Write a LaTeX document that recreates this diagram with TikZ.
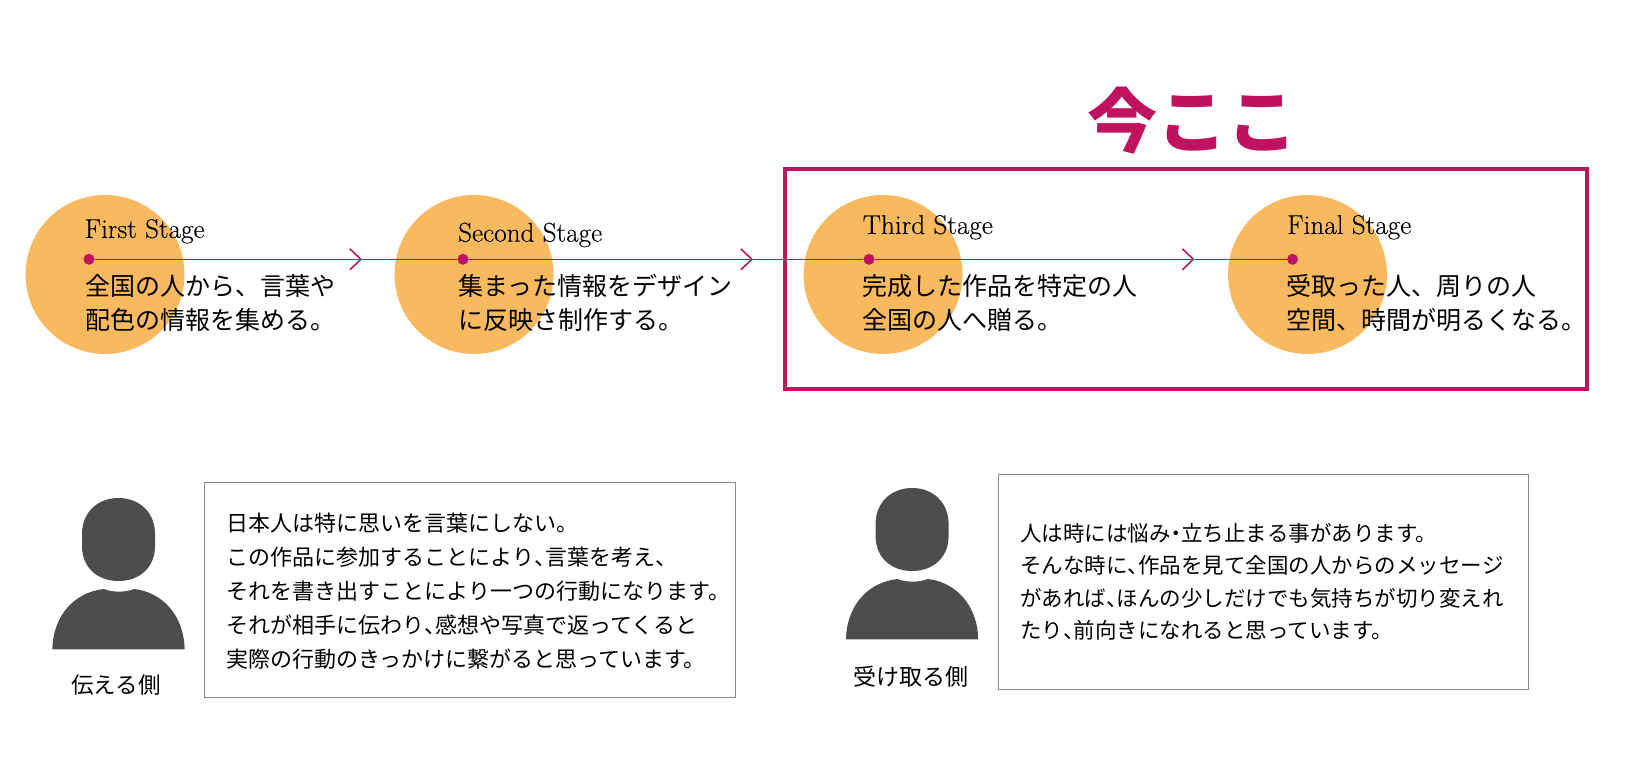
\documentclass[tikz,border=0pt]{standalone}
\usepackage{fontspec}
\usetikzlibrary{arrows.meta}
\newfontfamily\jpfont{Noto Sans CJK JP}
\newfontfamily\stagefont[FakeBold=0.15]{Latin Modern Roman}
\newcommand{\hcomma}{\makebox[.5em][l]{、}}
\newcommand{\hdot}{\makebox[.5em][c]{・}}
\definecolor{mag}{HTML}{C0125F}
\definecolor{orng}{HTML}{F9B95F}
\definecolor{persongray}{HTML}{4D4D4D}
\definecolor{boxgray}{HTML}{8A8A8A}
\tikzset{
  x=1pt,y=-1pt,
  disc/.style={circle,fill=orng,minimum size=159pt,inner sep=0pt},
  stagedot/.style={circle,fill=mag,minimum size=11pt,inner sep=0pt},
  stagelabel/.style={anchor=base west,inner sep=0pt,font=\stagefont\fontsize{27.2}{27.2}\selectfont},
  stagetext/.style={anchor=west,inner sep=0pt,align=left,font=\jpfont\fontsize{25}{34}\selectfont},
  flow/.style={draw=mag,line width=1.6pt},
  flowarrow/.style={flow,-{Straight Barb[length=11pt,width=21pt,line width=1.6pt]}},
  infobox/.style={draw=boxgray,line width=1pt,fill=white,anchor=north west,inner sep=0pt,outer sep=0pt},
  infotext/.style={anchor=west,inner sep=0pt,align=left,font=\jpfont\fontsize{22}{34}\selectfont},
  sidelabel/.style={inner sep=0pt,font=\jpfont\fontsize{22.5}{26}\selectfont},
  person/.pic={
    \fill[persongray] (82,534) .. controls (82,512) and (98,498) .. (118.5,498)
      .. controls (139,498) and (155,512) .. (155,534) -- (155,546)
      .. controls (155,568) and (139,581) .. (118.5,581)
      .. controls (98,581) and (82,568) .. (82,546) -- cycle;
    \fill[persongray] (52.4,649.3) .. controls (53,615) and (75,592) .. (104,589)
      .. controls (112,592.5) and (126,592.5) .. (134,589)
      .. controls (162,592) and (184,615) .. (184.6,649.3) -- cycle;
  }
}
\begin{document}
\begin{tikzpicture}
\useasboundingbox (0,0) rectangle (1626,765);
% discs
\node[disc] (c1) at (105,274.5) {};
\node[disc] (c2) at (474,274.5) {};
\node[disc] (c3) at (883,274.5) {};
\node[disc] (c4) at (1307.5,274.5) {};
% frame
\node[draw=mag,line width=4pt,outer sep=0pt,minimum width=801.5pt,minimum height=219.5pt,inner sep=0pt,anchor=north west] (frame) at (785,169.5) {};
% heading
\node[inner sep=0pt,text=mag,font=\jpfont\bfseries\fontsize{70}{70}\selectfont] (now) at (1192,121) {今ここ};
% timeline
\node[stagedot] (d1) at (89,259.3) {};
\node[stagedot] (d2) at (463,259.3) {};
\node[stagedot] (d3) at (869,259.3) {};
\node[stagedot] (d4) at (1292.5,259.3) {};
\coordinate (t1) at (362,259.3);
\coordinate (t2) at (753,259.3);
\coordinate (t3) at (1194.5,259.3);
\draw[flowarrow] (d1) -- (t1);
\draw[flow] (t1) -- (d2);
\draw[flowarrow] (d2) -- (t2);
\draw[flow] (t2) -- (d3);
\draw[flowarrow] (d3) -- (t3);
\draw[flow] (t3) -- (d4);
% stage labels
\node[stagelabel] (s1) at (84.5,238) {First Stage};
\node[stagelabel] (s2) at (458,241.7) {Second Stage};
\node[stagelabel] (s3) at (862.6,234) {Third Stage};
\node[stagelabel] (s4) at (1287,234) {Final Stage};
% stage text
\node[stagetext] (b1) at (85.2,303) {全国の人から、言葉や\\配色の情報を集める。};
\node[stagetext] (b2) at (458,303) {集まった情報をデザイン\\に反映さ制作する。};
\node[stagetext] (b3) at (862.6,303) {完成した作品を特定の人\\全国の人へ贈る。};
\node[stagetext] (b4) at (1286.5,303) {受取った人、周りの人\\空間、時間が明るくなる。};
% persons
\pic (p1) at (0,0) {person};
\pic (p2) at (793.6,-10) {person};
\node[sidelabel] (l1) at (116,685) {伝える側};
\node[sidelabel,font=\jpfont\fontsize{23}{26}\selectfont] (l2) at (910.5,676.7) {受け取る側};
% boxes
\node[infobox,minimum width=531pt,minimum height=214.5pt] (box1) at (204.5,482.7) {};
\node[infobox,minimum width=529.5pt,minimum height=215pt] (box2) at (998.5,474.3) {};
\node[infotext] (t1a) at (226.5,591) {日本人は特に思いを言葉にしない。\\この作品に参加することにより\hcomma 言葉を考え、\\それを書き出すことにより一つの行動になります。\\それが相手に伝わり\hcomma 感想や写真で返ってくると\\実際の行動のきっかけに繋がると思っています。};
\node[infotext,font=\jpfont\fontsize{21.5}{32.5}\selectfont] (t2a) at (1020,582) {人は時には悩み\hdot 立ち止まる事があります。\\そんな時に\hcomma 作品を見て全国の人からのメッセージ\\があれば\hcomma ほんの少しだけでも気持ちが切り変えれ\\たり\hcomma 前向きになれると思っています。};
\end{tikzpicture}
\end{document}
